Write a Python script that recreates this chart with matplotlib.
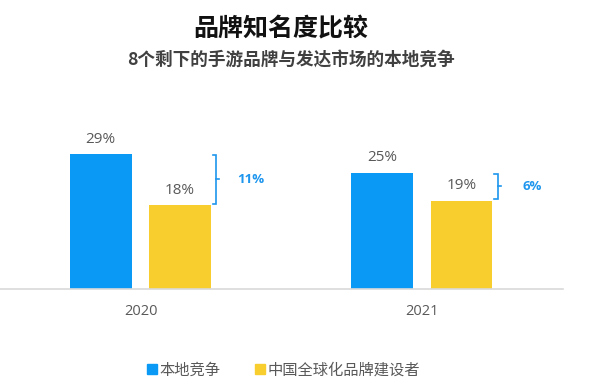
import numpy as np
import matplotlib
matplotlib.use("Agg")
import matplotlib.pyplot as plt
from matplotlib.lines import Line2D

plt.rcParams['font.family'] = ['Noto Sans CJK SC', 'DejaVu Sans']
NUM_FONT = ['Open Sans', 'DejaVu Sans']

# data
years = ['2020', '2021']
local = [29, 25]
global_brand = [18, 19]
gaps = ['11%', '6%']
series_names = ['本地竞争', '中国全球化品牌建设者']

BLUE = '#0A9AF5'
YELLOW = '#F7CE2E'
GAP_BLUE = '#1E96EE'
GRAY = '#595959'

fig = plt.figure(figsize=(6, 3.87), dpi=100)
ax = fig.add_axes([0.0, 0.2532, 0.938, 0.385])

x = np.arange(len(years))
w = 0.22
ax.bar(x - 0.142, local, w, color=BLUE)
ax.bar(x + 0.14, global_brand, w, color=YELLOW)

for xi, a, b, g in zip(x, local, global_brand, gaps):
    ax.text(xi - 0.142, a + 1.6, f'{a}%', ha='center', va='bottom', fontsize=11, color=GRAY, family=NUM_FONT)
    ax.text(xi + 0.14, b + 1.6, f'{b}%', ha='center', va='bottom', fontsize=11, color=GRAY, family=NUM_FONT)
    # bracket
    top, bot = a - 0.2, b + 0.3
    bx = xi + 0.268
    mid = (top + bot) / 2
    ax.plot([bx - 0.012, bx, bx, bx - 0.012], [top, top, bot, bot], color=GAP_BLUE, lw=1.2,
            solid_joinstyle='miter')
    ax.plot([bx, bx + 0.012], [mid, mid], color=GAP_BLUE, lw=1.2)
    ax.text(xi + 0.39, mid, g, ha='center', va='center', fontsize=9.5, fontweight='bold', color=GAP_BLUE,
            family=NUM_FONT)

ax.set_xlim(-0.5, 1.5)
ax.set_ylim(0, 32)
ax.set_xticks(x)
ax.set_xticklabels(years, fontsize=10.5, color=GRAY, family=NUM_FONT)
ax.tick_params(axis='x', length=0, pad=11)
ax.set_yticks([])
for s in ['top', 'right', 'left']:
    ax.spines[s].set_visible(False)
ax.spines['bottom'].set_color('#D9D9D9')
ax.spines['bottom'].set_linewidth(1.2)

fig.text(0.468, 0.925, '品牌知名度比较', ha='center', va='center', fontsize=18, fontweight='bold', color='#111111')
fig.text(0.485, 0.845, '8个剩下的手游品牌与发达市场的本地竞争', ha='center', va='center', fontsize=12.7,
         fontweight='bold', color='#404040')

handles = [Line2D([], [], marker='s', linestyle='none', color=c, markersize=7) for c in (BLUE, YELLOW)]
leg = fig.legend(handles, series_names, loc='center', bbox_to_anchor=(0.472, 0.044), ncol=2, frameon=False,
                 fontsize=11, handletextpad=0.1, columnspacing=2.2, handlelength=0.8)
for t in leg.get_texts():
    t.set_color(GRAY)

fig.savefig('out.png', dpi=100)
